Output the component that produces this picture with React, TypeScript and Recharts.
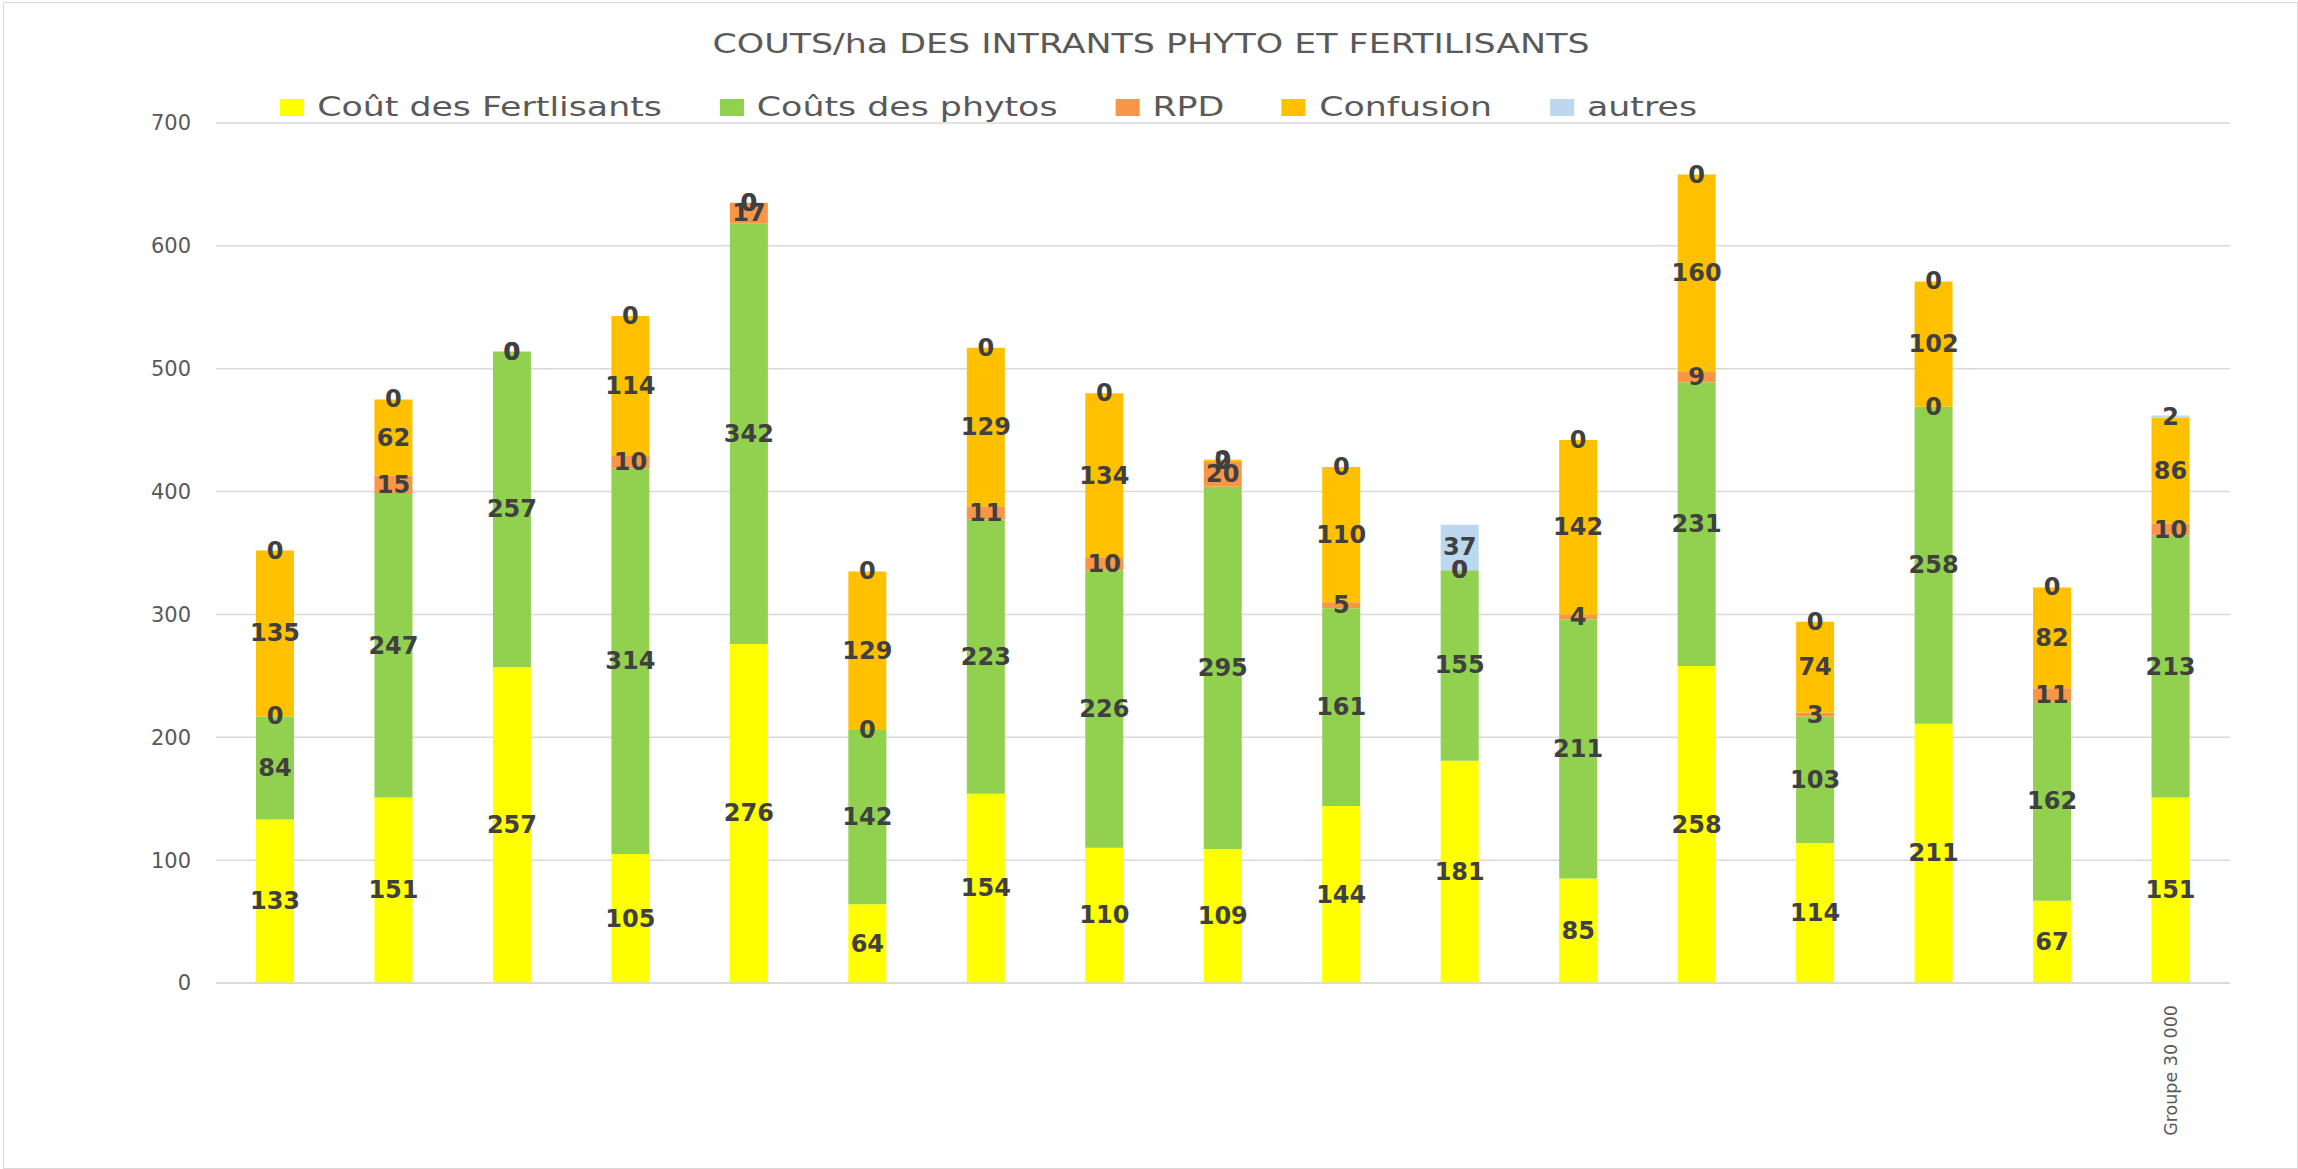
import { BarChart, Bar, XAxis, YAxis, CartesianGrid, LabelList } from "recharts";

// Coûts/ha par exploitation (le dernier groupe = moyenne "Groupe 30 000")
const groups = [
  "", "", "", "", "", "", "", "", "", "", "", "", "", "", "", "", "Groupe 30 000",
];
const fertilisants = [133, 151, 257, 105, 276, 64, 154, 110, 109, 144, 181, 85, 258, 114, 211, 67, 151];
const phytos = [84, 247, 257, 314, 342, 142, 223, 226, 295, 161, 155, 211, 231, 103, 258, 162, 213];
const rpd = [0, 15, 0, 10, 17, 0, 11, 10, 20, 5, 0, 4, 9, 3, 0, 11, 10];
const confusion = [135, 62, 0, 114, 0, 129, 129, 134, 2, 110, 0, 142, 160, 74, 102, 82, 86];
const autres = [0, 0, 0, 0, 0, 0, 0, 0, 0, 0, 37, 0, 0, 0, 0, 0, 2];
const yTicks = [0, 100, 200, 300, 400, 500, 600, 700];

const series = [
  { key: "fert", name: "Coût des Fertlisants", color: "#FFFF00" },
  { key: "phyto", name: "Coûts des phytos", color: "#92D050" },
  { key: "rpd", name: "RPD", color: "#F79646" },
  { key: "confusion", name: "Confusion", color: "#FFC000" },
  { key: "autres", name: "autres", color: "#BDD7EE" },
];

const W = 2298;
const H = 1169;
const FONT = "'DejaVu Sans', sans-serif";

function GroupTick(props: any) {
  const { x, y, payload } = props;
  if (!payload.value) return null;
  return (
    <text
      x={x}
      y={y + 14}
      transform={`rotate(-90, ${x}, ${y + 14})`}
      textAnchor="end"
      dominantBaseline="central"
      fontFamily={FONT}
      fontSize={17.5}
      fill="#595959"
    >
      {payload.value}
    </text>
  );
}

// label drawn by hand so that the zero values are shown too
function ValueLabel(p: any) {
  const vb = p.viewBox ?? p;
  const x = Number(vb.x) + Number(vb.width) / 2;
  const y = Number(vb.y) + Number(vb.height) / 2;
  if (!isFinite(x) || !isFinite(y)) return null;
  return (
    <text
      x={x}
      y={y}
      textAnchor="middle"
      dominantBaseline="central"
      fill="#404040"
      fontSize={24}
      fontWeight="bold"
      fontFamily={FONT}
    >
      {String(p.value)}
    </text>
  );
}

export default function App() {
  const data = groups.map((g, i) => ({
    groupe: g,
    fert: fertilisants[i],
    phyto: phytos[i],
    rpd: rpd[i],
    confusion: confusion[i],
    autres: autres[i],
  }));

  return (
    <div style={{ position: "relative", width: W, height: H, background: "#fff", fontFamily: FONT }}>
      <style>{`body{margin:0}`}</style>
      <div
        style={{
          position: "absolute",
          left: 3,
          top: 2,
          width: 2295,
          height: 1167,
          border: "1px solid #D9D9D9",
          boxSizing: "border-box",
        }}
      />
      <BarChart
        width={W}
        height={H}
        data={data}
        margin={{ top: 123, right: 68, bottom: 36, left: 156 }}
        style={{ position: "absolute", left: 0, top: 0 }}
      >
        <CartesianGrid vertical={false} stroke="#D9D9D9" strokeWidth={1.5} />
        <XAxis
          dataKey="groupe"
          interval={0}
          height={150}
          tickLine={false}
          axisLine={{ stroke: "#D9D9D9", strokeWidth: 1.5 }}
          tick={<GroupTick />}
        />
        <YAxis
          domain={[0, 700]}
          ticks={yTicks}
          width={60}
          axisLine={false}
          tickLine={false}
          tickSize={0}
          tickMargin={25}
          tick={{ fontFamily: FONT, fontSize: 21, fill: "#595959" }}
        />
        {series.map((s) => (
          <Bar
            key={s.key}
            dataKey={s.key}
            name={s.name}
            stackId="a"
            fill={s.color}
            barSize={38}
            minPointSize={0.01}
            isAnimationActive={false}
          >
            <LabelList dataKey={s.key} position="center" content={ValueLabel} />
          </Bar>
        ))}
      </BarChart>

      <div
        style={{
          position: "absolute",
          left: 2,
          top: 30,
          width: W,
          textAlign: "center",
          fontSize: 27,
          lineHeight: "27px",
          color: "#595959",
          transform: "scaleX(1.29)",
          transformOrigin: "center",
          whiteSpace: "nowrap",
        }}
      >
        COUTS/ha DES INTRANTS PHYTO ET FERTILISANTS
      </div>

      <div
        style={{
          position: "absolute",
          left: 280,
          top: 94,
          display: "flex",
          gap: 43.2,
          fontSize: 26,
          lineHeight: "26px",
          color: "#595959",
          transform: "scaleX(1.337)",
          transformOrigin: "left",
          whiteSpace: "nowrap",
        }}
      >
        {series.map((s) => (
          <div key={s.key} style={{ display: "flex", alignItems: "center", gap: 9.8 }}>
            <span style={{ display: "inline-block", width: 18, height: 17, background: s.color }} />
            <span>{s.name}</span>
          </div>
        ))}
      </div>
    </div>
  );
}
